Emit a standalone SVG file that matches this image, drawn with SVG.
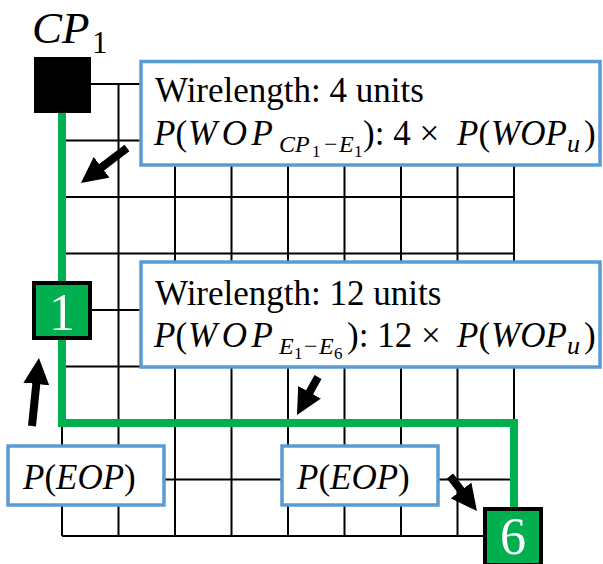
<svg xmlns="http://www.w3.org/2000/svg" width="603" height="564" viewBox="0 0 603 564">
<defs>
<style>
.grid line{stroke:#000;stroke-width:2}
.box{fill:#fff;stroke:#5B9BD5;stroke-width:3.5}
.t{font-family:"Liberation Serif","Times New Roman",serif;font-size:35px;fill:#000}
.i{font-style:italic}
.s{font-size:24px}
.ss{font-size:17px}
.cp{font-size:45px}
.cps{font-size:31px}
.num{font-family:"Liberation Serif","Times New Roman",serif;font-size:52px;fill:#fff;text-anchor:middle}
.arrow{stroke:#000;stroke-width:8;fill:none;marker-end:url(#ah)}
.wire{stroke:#00B050;stroke-width:8;fill:none}
.node{fill:#00B050;stroke:#000;stroke-width:4}
</style>
<marker id="ah" markerUnits="userSpaceOnUse" markerWidth="26" markerHeight="26" viewBox="0 0 26 26" refX="2" refY="13" orient="auto"><path d="M0,0 L26,13 L0,26 z" fill="#000"/></marker>
</defs>
<g id="grid" class="grid">
<line x1="62" y1="84" x2="62" y2="536"/>
<line x1="118.5" y1="84" x2="118.5" y2="536"/>
<line x1="175" y1="84" x2="175" y2="536"/>
<line x1="231.5" y1="84" x2="231.5" y2="536"/>
<line x1="288" y1="84" x2="288" y2="536"/>
<line x1="344.5" y1="84" x2="344.5" y2="536"/>
<line x1="401" y1="84" x2="401" y2="536"/>
<line x1="457.5" y1="84" x2="457.5" y2="536"/>
<line x1="514" y1="84" x2="514" y2="536"/>
<line x1="62" y1="84" x2="514" y2="84"/>
<line x1="62" y1="140.5" x2="514" y2="140.5"/>
<line x1="62" y1="197" x2="514" y2="197"/>
<line x1="62" y1="253.5" x2="514" y2="253.5"/>
<line x1="62" y1="310" x2="514" y2="310"/>
<line x1="62" y1="366.5" x2="514" y2="366.5"/>
<line x1="62" y1="423" x2="514" y2="423"/>
<line x1="62" y1="479.5" x2="514" y2="479.5"/>
<line x1="62" y1="536" x2="514" y2="536"/>
</g>
<g id="connectors">
<path id="wire" class="wire" d="M62,113 V423 H514 V509"/>
</g>
<g id="cp1">
<rect x="34" y="57" width="57" height="56" fill="#000"/>
<text class="t i cp" x="32" y="43">CP</text>
<text class="t cps" x="92" y="53">1</text>
</g>
<g id="box-top">
<rect class="box" x="141" y="61.5" width="459" height="103.5"/>
<text class="t" x="155" y="101.5">Wirelength: 4 units</text>
<text class="t" y="145"><tspan class="i" x="154">P</tspan><tspan>(</tspan><tspan class="i" x="188" letter-spacing="4.5">WOP</tspan><tspan class="i s" x="279" y="152">CP</tspan><tspan class="ss" x="312" y="157">1</tspan><tspan class="s" x="324" y="152">−</tspan><tspan class="i s" x="339" y="152">E</tspan><tspan class="ss" x="354" y="157">1</tspan><tspan x="363" y="145">): 4 ×</tspan><tspan class="i" x="457">P</tspan><tspan>(</tspan><tspan class="i" x="491">WOP</tspan><tspan class="i" x="567" y="152" font-size="26">u</tspan><tspan x="584" y="145">)</tspan></text>
</g>
<g id="box-mid">
<rect class="box" x="141" y="262" width="459" height="105"/>
<text class="t" x="155" y="305">Wirelength: 12 units</text>
<text class="t" y="347"><tspan class="i" x="154">P</tspan><tspan>(</tspan><tspan class="i" x="188" letter-spacing="4.5">WOP</tspan><tspan class="i s" x="279" y="354">E</tspan><tspan class="ss" x="294" y="359">1</tspan><tspan class="s" x="304" y="354">−</tspan><tspan class="i s" x="319" y="354">E</tspan><tspan class="ss" x="334" y="359">6</tspan><tspan x="347" y="347">): 12 ×</tspan><tspan class="i" x="457">P</tspan><tspan>(</tspan><tspan class="i" x="491">WOP</tspan><tspan class="i" x="567" y="354" font-size="26">u</tspan><tspan x="584" y="347">)</tspan></text>
</g>
<g id="eop-left">
<rect class="box" x="8" y="446" width="156" height="59"/>
<text class="t" x="23" y="489"><tspan class="i">P</tspan>(<tspan class="i">EOP</tspan>)</text>
</g>
<g id="eop-right">
<rect class="box" x="282" y="446" width="156" height="59"/>
<text class="t" x="297" y="489"><tspan class="i">P</tspan>(<tspan class="i">EOP</tspan>)</text>
</g>
<g id="node-1">
<rect class="node" x="34" y="283" width="56" height="55"/>
<text class="num" x="62" y="330">1</text>
</g>
<g id="node-6">
<rect class="node" x="485" y="509" width="56" height="56"/>
<text class="num" x="513" y="554">6</text>
</g>
<g id="arrows">
<line class="arrow" x1="127" y1="148" x2="100" y2="168.5"/>
<line class="arrow" x1="32" y1="426" x2="36.5" y2="382"/>
<line class="arrow" x1="318" y1="377" x2="308.6" y2="394"/>
<line class="arrow" x1="450" y1="476" x2="462.3" y2="492"/>
</g>
</svg>
